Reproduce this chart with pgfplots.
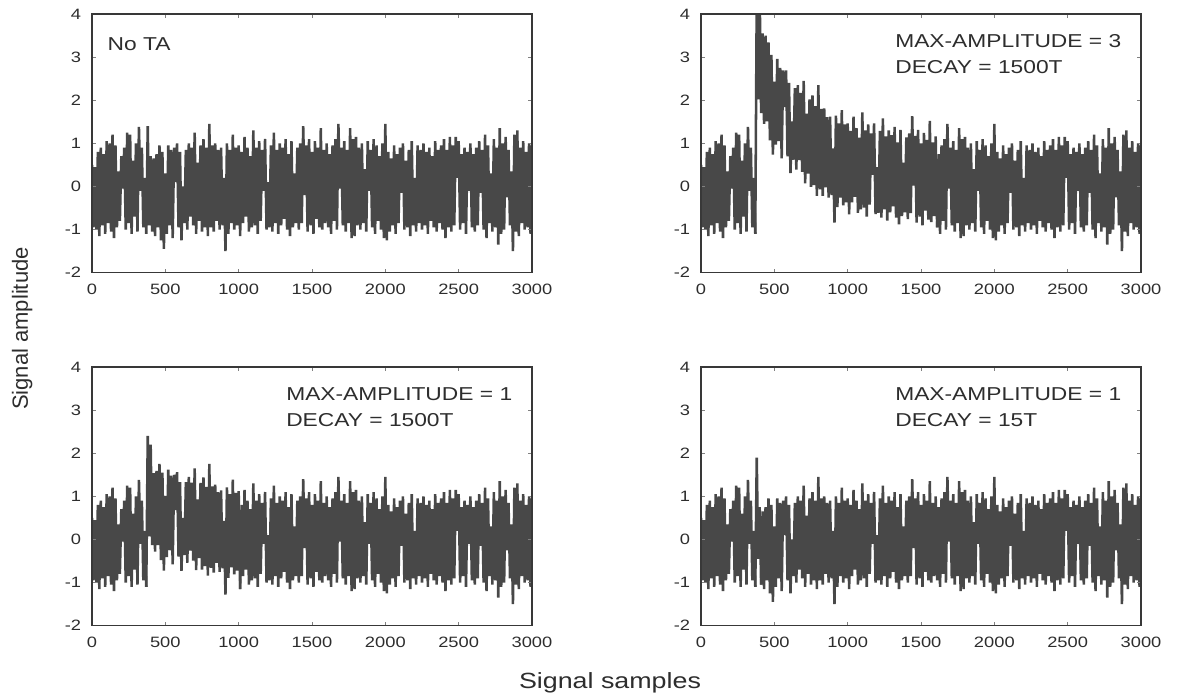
\documentclass[border=0pt]{standalone}
\usepackage{fontspec}
\setmainfont{Liberation Sans}[FakeStretch=1.22]
\newfontfamily\plainsans{Liberation Sans}
\usepackage{pgfplots}
\pgfplotsset{compat=1.18}
\usepackage{pgfplotstable}

\definecolor{sigc}{RGB}{72,72,72}
\definecolor{txt}{RGB}{45,45,45}

\newcommand\tickfont{\fontsize{11.25}{13}\selectfont}
\newcommand\notefont{\fontsize{14}{16}\selectfont}
\newcommand\labelfont{\fontsize{16.5}{19}\selectfont}

\pgfplotsset{
  panel/.style={
    scale only axis, width=330pt, height=194pt,
    xmin=0, xmax=3000, ymin=-2, ymax=4,
    xtick={0,500,...,3000}, ytick={-2,-1,...,4},
    tick align=inside, major tick length=3pt,
    tick style={draw=black!50, line width=0.6pt},
    axis line style={draw=black!78, line width=1pt},
    axis on top,
    ticklabel style={font=\tickfont, text=txt},
    /pgf/number format/assume math mode=true,
    /pgf/number format/1000 sep={},
    xticklabel style={anchor=north, inner sep=0pt, yshift=-8pt},
    yticklabel style={anchor=east, inner sep=0pt, xshift=-8pt},
  },
  sig/.style={draw=sigc, line width=1.9pt, line join=bevel, mark=none},
}
\tikzset{note/.style={font=\notefont, text=txt, inner sep=0pt, anchor=base west}}

% common noise record, hi / lo every 10 samples
\pgfplotstableread[row sep=\\]{
x y \\
0 0.50 \\ 10 -0.95 \\ 20 0.45 \\ 30 -1.00 \\ 40 0.80 \\ 50 -1.15 \\ 60 0.90 \\ 70 -0.90 \\ 80 0.75 \\ 90 -1.10 \\
100 1.05 \\ 110 -0.85 \\ 120 1.00 \\ 130 -1.05 \\ 140 1.20 \\ 150 -1.20 \\ 160 0.95 \\ 170 -0.95 \\ 180 0.35 \\ 190 -0.80 \\
200 0.70 \\ 210 -0.05 \\ 220 0.90 \\ 230 -1.00 \\ 240 1.25 \\ 250 -0.85 \\ 260 1.20 \\ 270 -1.10 \\ 280 0.60 \\ 290 -0.70 \\
300 1.00 \\ 310 -1.05 \\ 320 1.38 \\ 330 -0.10 \\ 340 0.90 \\ 350 -0.95 \\ 360 0.20 \\ 370 -1.10 \\ 380 1.40 \\ 390 -0.90 \\
400 0.70 \\ 410 -1.05 \\ 420 0.65 \\ 430 -1.15 \\ 440 0.75 \\ 450 -0.95 \\ 460 0.95 \\ 470 -1.25 \\ 480 0.80 \\ 490 -1.45 \\
500 0.30 \\ 510 -1.10 \\ 520 0.95 \\ 530 -0.90 \\ 540 0.85 \\ 550 -1.20 \\ 560 0.90 \\ 570 0.10 \\ 580 1.00 \\ 590 -0.95 \\
600 0.80 \\ 610 -1.25 \\ 620 0.00 \\ 630 -0.85 \\ 640 0.85 \\ 650 -1.00 \\ 660 1.00 \\ 670 -0.70 \\ 680 0.90 \\ 690 -0.90 \\
700 1.25 \\ 710 -1.10 \\ 720 0.55 \\ 730 -0.80 \\ 740 0.95 \\ 750 -1.05 \\ 760 1.10 \\ 770 -0.95 \\ 780 0.90 \\ 790 -1.15 \\
800 1.45 \\ 810 -0.95 \\ 820 0.95 \\ 830 -1.05 \\ 840 1.00 \\ 850 -0.80 \\ 860 0.85 \\ 870 -1.00 \\ 880 0.90 \\ 890 -0.90 \\
900 0.20 \\ 910 -1.50 \\ 920 1.00 \\ 930 -1.10 \\ 940 0.85 \\ 950 -0.85 \\ 960 1.20 \\ 970 -1.00 \\ 980 0.90 \\ 990 -0.90 \\
1000 0.95 \\ 1010 -1.15 \\ 1020 0.80 \\ 1030 -0.85 \\ 1040 1.15 \\ 1050 -0.70 \\ 1060 0.90 \\ 1070 -1.05 \\ 1080 0.70 \\ 1090 -0.95 \\
1100 1.30 \\ 1110 -0.90 \\ 1120 0.90 \\ 1130 -1.10 \\ 1140 1.05 \\ 1150 -0.80 \\ 1160 0.85 \\ 1170 -0.10 \\ 1180 1.10 \\ 1190 -1.00 \\
1200 0.10 \\ 1210 -0.95 \\ 1220 0.95 \\ 1230 -1.05 \\ 1240 1.25 \\ 1250 -0.85 \\ 1260 0.85 \\ 1270 -1.10 \\ 1280 1.00 \\ 1290 -0.90 \\
1300 0.90 \\ 1310 -0.75 \\ 1320 1.10 \\ 1330 -1.00 \\ 1340 0.75 \\ 1350 -1.15 \\ 1360 1.05 \\ 1370 -0.95 \\ 1380 0.30 \\ 1390 -0.85 \\
1400 0.90 \\ 1410 -1.00 \\ 1420 1.00 \\ 1430 -0.85 \\ 1440 1.40 \\ 1450 -0.20 \\ 1460 0.95 \\ 1470 -1.05 \\ 1480 1.10 \\ 1490 -0.90 \\
1500 0.80 \\ 1510 -1.10 \\ 1520 1.05 \\ 1530 -0.75 \\ 1540 0.90 \\ 1550 -0.95 \\ 1560 1.35 \\ 1570 -1.00 \\ 1580 0.85 \\ 1590 -0.85 \\
1600 1.00 \\ 1610 -0.95 \\ 1620 0.75 \\ 1630 -1.10 \\ 1640 0.95 \\ 1650 -0.80 \\ 1660 1.10 \\ 1670 -1.00 \\ 1680 1.45 \\ 1690 -0.05 \\
1700 0.90 \\ 1710 -0.90 \\ 1720 1.05 \\ 1730 -1.05 \\ 1740 0.85 \\ 1750 -0.85 \\ 1760 1.35 \\ 1770 -1.20 \\ 1780 1.10 \\ 1790 -1.15 \\
1800 1.15 \\ 1810 -0.90 \\ 1820 0.90 \\ 1830 -1.00 \\ 1840 1.00 \\ 1850 -0.85 \\ 1860 0.40 \\ 1870 -1.05 \\ 1880 1.05 \\ 1890 -0.10 \\
1900 0.85 \\ 1910 -0.95 \\ 1920 1.10 \\ 1930 -1.10 \\ 1940 0.95 \\ 1950 -0.80 \\ 1960 0.70 \\ 1970 -1.00 \\ 1980 1.00 \\ 1990 -1.20 \\
2000 1.45 \\ 2010 -1.25 \\ 2020 0.80 \\ 2030 -1.05 \\ 2040 0.65 \\ 2050 -0.90 \\ 2060 0.95 \\ 2070 -1.10 \\ 2080 0.75 \\ 2090 -0.85 \\
2100 0.90 \\ 2110 -0.15 \\ 2120 1.00 \\ 2130 -1.00 \\ 2140 0.60 \\ 2150 -0.95 \\ 2160 0.85 \\ 2170 -1.15 \\ 2180 1.05 \\ 2190 -0.90 \\
2200 0.20 \\ 2210 -1.05 \\ 2220 0.95 \\ 2230 -0.85 \\ 2240 0.85 \\ 2250 -1.00 \\ 2260 1.00 \\ 2270 -0.90 \\ 2280 0.80 \\ 2290 -1.10 \\
2300 0.90 \\ 2310 -0.80 \\ 2320 0.70 \\ 2330 -0.95 \\ 2340 1.05 \\ 2350 -1.05 \\ 2360 0.85 \\ 2370 -0.85 \\ 2380 0.95 \\ 2390 -1.00 \\
2400 1.10 \\ 2410 -1.20 \\ 2420 0.85 \\ 2430 -0.95 \\ 2440 1.15 \\ 2450 -1.05 \\ 2460 0.95 \\ 2470 -0.90 \\ 2480 1.15 \\ 2490 0.20 \\
2500 1.05 \\ 2510 -1.00 \\ 2520 0.75 \\ 2530 -0.85 \\ 2540 0.90 \\ 2550 -1.10 \\ 2560 0.80 \\ 2570 -0.10 \\ 2580 1.00 \\ 2590 -0.95 \\
2600 0.75 \\ 2610 -1.05 \\ 2620 0.90 \\ 2630 -0.90 \\ 2640 1.05 \\ 2650 -0.15 \\ 2660 0.85 \\ 2670 -1.00 \\ 2680 1.20 \\ 2690 -1.20 \\
2700 0.95 \\ 2710 -0.85 \\ 2720 0.30 \\ 2730 -1.05 \\ 2740 1.10 \\ 2750 -0.95 \\ 2760 0.90 \\ 2770 -1.35 \\ 2780 1.35 \\ 2790 -1.10 \\
2800 1.00 \\ 2810 -1.00 \\ 2820 1.15 \\ 2830 -0.25 \\ 2840 0.85 \\ 2850 -0.90 \\ 2860 0.35 \\ 2870 -1.50 \\ 2880 1.20 \\ 2890 -1.05 \\
2900 1.30 \\ 2910 -1.15 \\ 2920 0.90 \\ 2930 -0.85 \\ 2940 1.05 \\ 2950 -1.00 \\ 2960 0.80 \\ 2970 -0.95 \\ 2980 1.00 \\ 2990 -1.10 \\
3000 0.95 \\
}\noise

% MAX-AMPLITUDE = 3, DECAY = 1500T (stretch 370..1610)
\pgfplotstableread[row sep=\\]{
x y \\
370 -1.10 \\ 380 4.40 \\ 390 2.02 \\ 400 4.50 \\ 410 1.70 \\ 420 3.55 \\ 430 1.45 \\ 440 3.50 \\ 450 1.51 \\ 460 3.34 \\
470 1.07 \\ 480 3.05 \\ 490 0.74 \\ 500 2.43 \\ 510 0.97 \\ 520 2.96 \\ 530 1.05 \\ 540 2.75 \\ 550 0.65 \\ 560 2.69 \\
570 1.84 \\ 580 2.69 \\ 590 0.70 \\ 600 2.40 \\ 610 0.31 \\ 620 1.51 \\ 630 0.62 \\ 640 2.28 \\ 650 0.39 \\ 660 2.35 \\
670 0.61 \\ 680 2.17 \\ 690 0.34 \\ 700 2.45 \\ 710 0.07 \\ 720 1.69 \\ 730 0.30 \\ 740 2.02 \\ 750 -0.01 \\ 760 2.11 \\
770 0.03 \\ 780 1.86 \\ 790 -0.22 \\ 800 2.35 \\ 810 -0.07 \\ 820 1.80 \\ 830 -0.22 \\ 840 1.81 \\ 850 -0.02 \\ 860 1.61 \\
870 -0.26 \\ 880 1.62 \\ 890 -0.20 \\ 900 0.88 \\ 910 -0.84 \\ 920 1.64 \\ 930 -0.48 \\ 940 1.46 \\ 950 -0.26 \\ 960 1.77 \\
970 -0.44 \\ 980 1.44 \\ 990 -0.37 \\ 1000 1.46 \\ 1010 -0.65 \\ 1020 1.29 \\ 1030 -0.37 \\ 1040 1.62 \\ 1050 -0.24 \\ 1060 1.35 \\
1070 -0.61 \\ 1080 1.13 \\ 1090 -0.53 \\ 1100 1.72 \\ 1110 -0.49 \\ 1120 1.30 \\ 1130 -0.70 \\ 1140 1.44 \\ 1150 -0.42 \\ 1160 1.23 \\
1170 0.27 \\ 1180 1.46 \\ 1190 -0.64 \\ 1200 0.45 \\ 1210 -0.61 \\ 1220 1.29 \\ 1230 -0.72 \\ 1240 1.58 \\ 1250 -0.53 \\ 1260 1.16 \\
1270 -0.79 \\ 1280 1.30 \\ 1290 -0.60 \\ 1300 1.19 \\ 1310 -0.46 \\ 1320 1.38 \\ 1330 -0.72 \\ 1340 1.02 \\ 1350 -0.88 \\ 1360 1.31 \\
1370 -0.69 \\ 1380 0.55 \\ 1390 -0.60 \\ 1400 1.14 \\ 1410 -0.76 \\ 1420 1.23 \\ 1430 -0.62 \\ 1440 1.63 \\ 1450 0.02 \\ 1460 1.17 \\
1470 -0.84 \\ 1480 1.31 \\ 1490 -0.70 \\ 1500 1.00 \\ 1510 -0.90 \\ 1520 1.24 \\ 1530 -0.56 \\ 1540 1.08 \\ 1550 -0.77 \\ 1560 1.52 \\
1570 -0.83 \\ 1580 1.02 \\ 1590 -0.69 \\ 1600 1.16 \\ 1610 -0.95 \\
}\transA

% MAX-AMPLITUDE = 1, DECAY = 1500T (stretch 370..1010)
\pgfplotstableread[row sep=\\]{
x y \\
370 -1.10 \\ 380 2.40 \\ 390 0.07 \\ 400 2.20 \\ 410 -0.13 \\ 420 1.54 \\ 430 -0.28 \\ 440 1.59 \\ 450 -0.13 \\ 460 1.75 \\
470 -0.48 \\ 480 1.55 \\ 490 -0.72 \\ 500 1.01 \\ 510 -0.41 \\ 520 1.62 \\ 530 -0.25 \\ 540 1.48 \\ 550 -0.58 \\ 560 1.50 \\
570 0.68 \\ 580 1.56 \\ 590 -0.40 \\ 600 1.33 \\ 610 -0.73 \\ 620 0.50 \\ 630 -0.36 \\ 640 1.33 \\ 650 -0.54 \\ 660 1.45 \\
670 -0.26 \\ 680 1.32 \\ 690 -0.49 \\ 700 1.65 \\ 710 -0.71 \\ 720 0.93 \\ 730 -0.43 \\ 740 1.31 \\ 750 -0.70 \\ 760 1.44 \\
770 -0.62 \\ 780 1.22 \\ 790 -0.84 \\ 800 1.75 \\ 810 -0.66 \\ 820 1.23 \\ 830 -0.77 \\ 840 1.27 \\ 850 -0.54 \\ 860 1.10 \\
870 -0.75 \\ 880 1.14 \\ 890 -0.67 \\ 900 0.43 \\ 910 -1.28 \\ 920 1.21 \\ 930 -0.89 \\ 940 1.05 \\ 950 -0.65 \\ 960 1.39 \\
970 -0.81 \\ 980 1.08 \\ 990 -0.72 \\ 1000 1.12 \\ 1010 -1.15 \\
}\transB

% MAX-AMPLITUDE = 1, DECAY = 15T (stretch 370..410)
\pgfplotstableread[row sep=\\]{
x y \\
370 -1.10 \\ 380 1.90 \\ 390 -0.45 \\ 400 0.75 \\ 410 -1.05 \\
}\transC

\begin{document}
\begin{tikzpicture}
\useasboundingbox (-69pt,10.5pt) rectangle (813.75pt,-512.25pt);

\begin{axis}[panel, at={(0pt,0pt)}, anchor=north west]
  \addplot[sig] table {\noise};
  \node[note] at (rel axis cs:0.035,0.860) {No TA};
\end{axis}

\begin{axis}[panel, at={(456.75pt,0pt)}, anchor=north west]
  \addplot[sig, restrict x to domain=0:370] table {\noise};
  \addplot[sig] table {\transA};
  \addplot[sig, restrict x to domain=1610:3000] table {\noise};
  \node[note] at (rel axis cs:0.441,0.870) {MAX-AMPLITUDE = 3};
  \node[note] at (rel axis cs:0.441,0.771) {DECAY = 1500T};
\end{axis}

\begin{axis}[panel, at={(0pt,-264.75pt)}, anchor=north west]
  \addplot[sig, restrict x to domain=0:370] table {\noise};
  \addplot[sig] table {\transB};
  \addplot[sig, restrict x to domain=1010:3000] table {\noise};
  \node[note] at (rel axis cs:0.441,0.870) {MAX-AMPLITUDE = 1};
  \node[note] at (rel axis cs:0.441,0.771) {DECAY = 1500T};
\end{axis}

\begin{axis}[panel, at={(456.75pt,-264.75pt)}, anchor=north west]
  \addplot[sig, restrict x to domain=0:370] table {\noise};
  \addplot[sig] table {\transC};
  \addplot[sig, restrict x to domain=410:3000] table {\noise};
  \node[note] at (rel axis cs:0.441,0.870) {MAX-AMPLITUDE = 1};
  \node[note] at (rel axis cs:0.441,0.771) {DECAY = 15T};
\end{axis}

\node[font=\labelfont, text=txt, inner sep=0pt, anchor=base] at (388.5pt,-505.5pt) {Signal samples};
\node[font=\plainsans\labelfont, text=txt, inner sep=0pt, anchor=base, rotate=90] at (-48pt,-235.9pt) {Signal amplitude};
\end{tikzpicture}
\end{document}
